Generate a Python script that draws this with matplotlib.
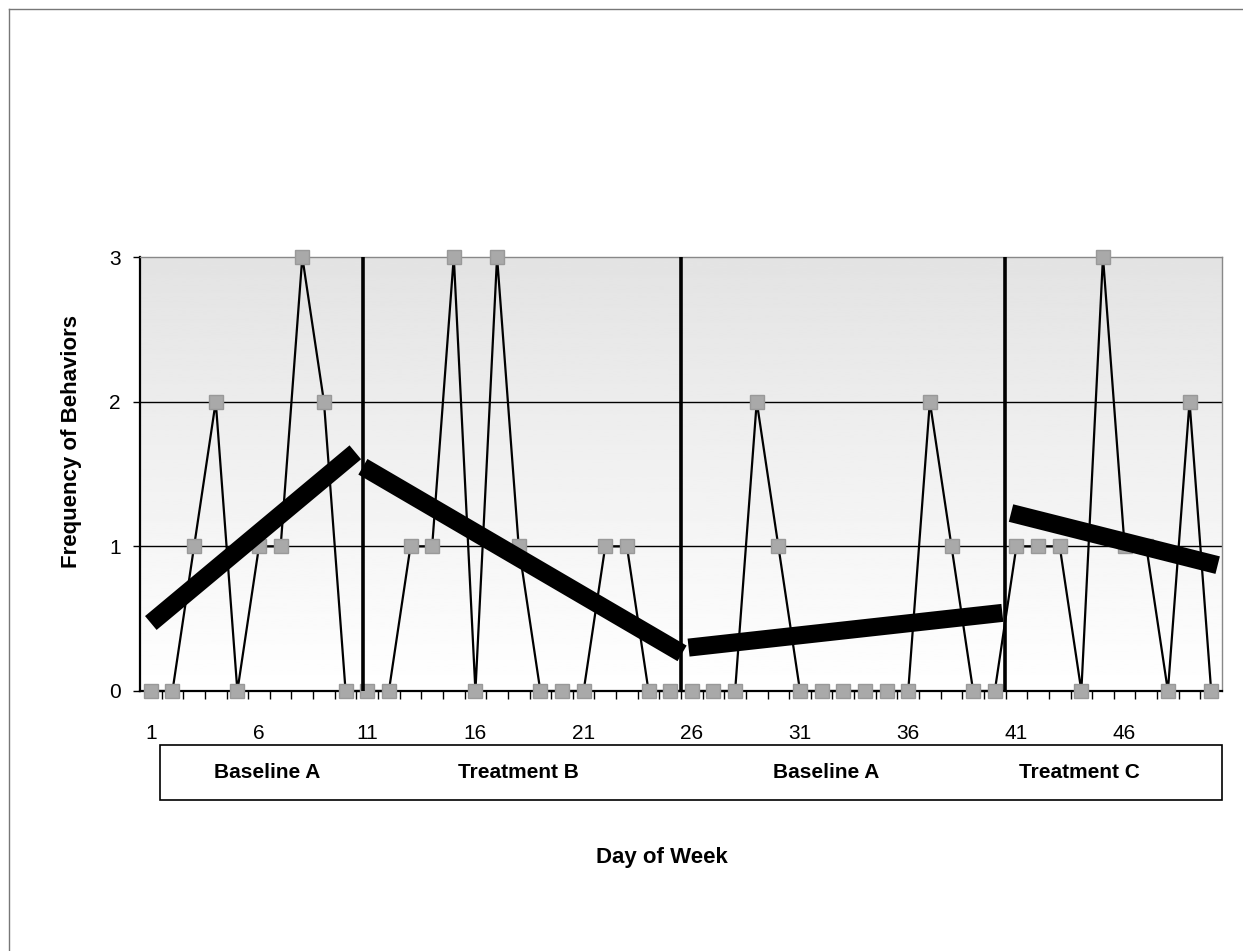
import numpy as np
import matplotlib.pyplot as plt
from matplotlib.patches import Rectangle
from matplotlib.lines import Line2D
import matplotlib.transforms as mtransforms

plt.rcParams['font.family'] = ['Liberation Sans', 'DejaVu Sans']

# daily frequency of behaviors, days 1-50
days = np.arange(1, 51)
freq = [0, 0, 1, 2, 0, 1, 1, 3, 2, 0,
        0, 0, 1, 1, 3, 0, 3, 1, 0, 0, 0, 1, 1, 0, 0,
        0, 0, 0, 2, 1, 0, 0, 0, 0, 0, 0, 2, 1, 0, 0,
        1, 1, 1, 0, 3, 1, 1, 0, 2, 0]

# phase change lines (between days)
phase_lines = [10.8, 25.5, 40.45]

# trend lines per phase: (x0, y0) -> (x1, y1)
trend_x0 = [1.0, 10.8, 25.85, 40.75]
trend_x1 = [10.45, 25.55, 40.35, 50.3]
trend_y0 = [0.47, 1.55, 0.30, 1.23]
trend_y1 = [1.65, 0.26, 0.54, 0.87]

phase_names = ['Baseline A', 'Treatment B', 'Baseline A', 'Treatment C']
phase_label_x = [6.4, 18.0, 32.2, 43.9]

tick_days = np.arange(1, 50, 5)

W, H = 1243, 951
fig = plt.figure(figsize=(W / 100, H / 100), dpi=100)
ax = fig.add_axes([140 / W, 1 - 691 / H, 1082 / W, 434 / H])

# gradient background like the old Excel fill (darker at the top)
grad = np.linspace(0.89, 1.0, 200).reshape(-1, 1)
ax.imshow(grad, extent=[0.5, 50.5, 0, 3], aspect='auto', cmap='gray',
          vmin=0, vmax=1, zorder=0, origin='upper')
ax.set_xlim(0.5, 50.5)
ax.set_ylim(0, 3)

for yv in [1, 2]:
    ax.axhline(yv, color='black', lw=1.0, zorder=1)

ax.plot(days, freq, color='black', lw=1.6, marker='s', markersize=9.5,
        markerfacecolor='#a9a9a9', markeredgecolor='#999999', zorder=3,
        clip_on=False)

for xv in phase_lines:
    ax.axvline(xv, color='black', lw=2.6, zorder=4)

for x0, x1, y0, y1 in zip(trend_x0, trend_x1, trend_y0, trend_y1):
    ax.plot([x0, x1], [y0, y1], color='black', lw=13,
            solid_capstyle='butt', zorder=5)

# axes styling
for s in ['left', 'bottom']:
    ax.spines[s].set_color('black')
    ax.spines[s].set_linewidth(1.6)
for s in ['top', 'right']:
    ax.spines[s].set_color('#888888')
    ax.spines[s].set_linewidth(1.0)

ax.set_yticks([0, 1, 2, 3])
ax.tick_params(axis='y', length=5, width=1, pad=9, labelsize=15)
ax.set_xticks(tick_days)
ax.set_xticks(np.arange(1.5, 50.5, 1), minor=True)
ax.tick_params(axis='x', which='major', length=0, pad=24, labelsize=15)
ax.tick_params(axis='x', which='minor', length=6, width=1)

# phase label box under the axis
box_tr = mtransforms.blended_transform_factory(ax.transData, fig.transFigure)
fig.patches.append(Rectangle((160 / W, 1 - 800 / H), (1222 - 160) / W, 55 / H,
                             transform=fig.transFigure, fill=False,
                             edgecolor='black', lw=1.2))
for name, xp in zip(phase_names, phase_label_x):
    fig.text(xp, 1 - 773 / H, name, transform=box_tr, ha='center',
             va='center', fontsize=15, fontweight='bold')

fig.text(72 / W, 1 - 441 / H, 'Frequency of Behaviors', rotation=90,
         ha='center', va='center', fontsize=16, fontweight='bold')
fig.text(662 / W, 1 - 858 / H, 'Day of Week', ha='center', va='center',
         fontsize=16, fontweight='bold')

# thin frame at the top and left of the image
fig.lines.append(Line2D([9 / W, 1], [1 - 9 / H, 1 - 9 / H],
                        transform=fig.transFigure, color='#777777', lw=1))
fig.lines.append(Line2D([9 / W, 9 / W], [1 - 9 / H, 0],
                        transform=fig.transFigure, color='#777777', lw=1))

fig.savefig('out.png', dpi=100)
